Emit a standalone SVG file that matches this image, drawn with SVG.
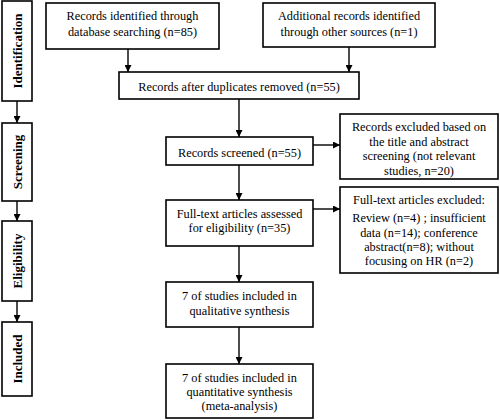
<svg xmlns="http://www.w3.org/2000/svg" width="500" height="420" viewBox="0 0 500 420">
<style>
.box{fill:#fff;stroke:#000;stroke-width:1.6}
.t{font-family:"Liberation Serif","Times New Roman",serif;font-size:12.3px;fill:#000;text-anchor:middle}
.s{font-family:"Liberation Serif","Times New Roman",serif;font-size:13px;font-weight:bold;fill:#000;text-anchor:middle}
.c{stroke:#000;stroke-width:1.4;fill:none}
</style>
<defs>
<marker id="ah" viewBox="0 0 10 10" refX="10" refY="5" markerUnits="userSpaceOnUse" markerWidth="7" markerHeight="7" orient="auto">
<path d="M0,0 L10,5 L0,10 z" fill="#000"/>
</marker>
</defs>
<rect width="500" height="420" fill="#fff"/>
<g id="connectors">
<line class="c" x1="17" y1="101" x2="17" y2="123" marker-end="url(#ah)"/>
<line class="c" x1="17" y1="201" x2="17" y2="221" marker-end="url(#ah)"/>
<line class="c" x1="17" y1="301" x2="17" y2="322" marker-end="url(#ah)"/>
<line class="c" x1="128" y1="49" x2="128" y2="72" marker-end="url(#ah)"/>
<line class="c" x1="349" y1="47" x2="349" y2="72" marker-end="url(#ah)"/>
<line class="c" x1="239" y1="99" x2="239" y2="137" marker-end="url(#ah)"/>
<line class="c" x1="313" y1="145" x2="340" y2="145" marker-end="url(#ah)"/>
<line class="c" x1="239" y1="165" x2="239" y2="200" marker-end="url(#ah)"/>
<line class="c" x1="313" y1="209" x2="340" y2="209" marker-end="url(#ah)"/>
<line class="c" x1="239" y1="246" x2="239" y2="282" marker-end="url(#ah)"/>
<line class="c" x1="239" y1="327" x2="239" y2="364" marker-end="url(#ah)"/>
</g>
<g id="stage-identification">
<rect class="box" x="2" y="1" width="30" height="100"/>
<text class="s" transform="translate(21.5,51) rotate(-90)">Identification</text>
</g>
<g id="stage-screening">
<rect class="box" x="2" y="123" width="30" height="78"/>
<text class="s" transform="translate(21.5,162) rotate(-90)">Screening</text>
</g>
<g id="stage-eligibility">
<rect class="box" x="2" y="221" width="30" height="80"/>
<text class="s" transform="translate(21.5,261) rotate(-90)">Eligibility</text>
</g>
<g id="stage-included">
<rect class="box" x="2" y="322" width="30" height="74"/>
<text class="s" transform="translate(21.5,359) rotate(-90)">Included</text>
</g>
<g id="n-database">
<rect class="box" x="46" y="3" width="173" height="46"/>
<text class="t" x="132.5" y="20">Records identified through</text>
<text class="t" x="132.5" y="36">database searching (n=85)</text>
</g>
<g id="n-other">
<rect class="box" x="263" y="3" width="172" height="44"/>
<text class="t" x="349" y="20">Additional records identified</text>
<text class="t" x="349" y="36">through other sources (n=1)</text>
</g>
<g id="n-duplicates">
<rect class="box" x="119" y="72" width="240" height="27"/>
<text class="t" x="239" y="91">Records after duplicates removed (n=55)</text>
</g>
<g id="n-screened">
<rect class="box" x="166" y="137" width="147" height="28"/>
<text class="t" x="239.5" y="157">Records screened (n=55)</text>
</g>
<g id="n-excluded1">
<rect class="box" x="340" y="114" width="158" height="65"/>
<text class="t" x="419" y="131">Records excluded based on</text>
<text class="t" x="419" y="146">the title and abstract</text>
<text class="t" x="419" y="160">screening (not relevant</text>
<text class="t" x="419" y="175">studies, n=20)</text>
</g>
<g id="n-fulltext">
<rect class="box" x="166" y="200" width="147" height="46"/>
<text class="t" x="239.5" y="218">Full-text articles assessed</text>
<text class="t" x="239.5" y="232">for eligibility (n=35)</text>
</g>
<g id="n-excluded2">
<rect class="box" x="340" y="187" width="158" height="86"/>
<text class="t" x="419" y="204">Full-text articles excluded:</text>
<text class="t" x="419" y="222">Review (n=4) ; insufficient</text>
<text class="t" x="419" y="237">data (n=14); conference</text>
<text class="t" x="419" y="251">abstract(n=8); without</text>
<text class="t" x="419" y="265">focusing on HR (n=2)</text>
</g>
<g id="n-qualitative">
<rect class="box" x="166" y="282" width="147" height="45"/>
<text class="t" x="239.5" y="300">7 of studies included in</text>
<text class="t" x="239.5" y="315">qualitative synthesis</text>
</g>
<g id="n-quantitative">
<rect class="box" x="166" y="364" width="147" height="54"/>
<text class="t" x="239.5" y="382">7 of studies included in</text>
<text class="t" x="239.5" y="396">quantitative synthesis</text>
<text class="t" x="239.5" y="410">(meta-analysis)</text>
</g>
</svg>
